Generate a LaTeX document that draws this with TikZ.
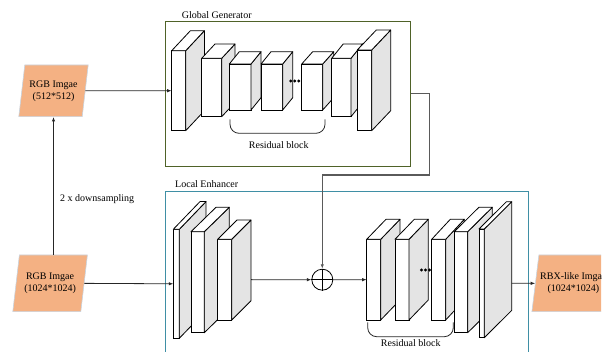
\documentclass[tikz,border=0pt]{standalone}
\usepackage{fontspec}
\setmainfont{Liberation Serif}
\usetikzlibrary{calc,arrows.meta}
\definecolor{ggcol}{HTML}{4F6228}
\definecolor{lecol}{HTML}{3F8FA5}
\definecolor{parafill}{HTML}{F4B183}
\definecolor{paraline}{HTML}{C8D4E0}
\definecolor{sidegray}{HTML}{E4E4E4}
\definecolor{linecol}{HTML}{262626}
\definecolor{fbcol}{HTML}{5A5A5A}
\tikzset{
  txt/.style={font=\fontsize{10}{12}\selectfont, inner sep=0pt, text=black},
  blockfront/.style={draw=black, line width=0.8pt, fill=white, inner sep=0pt, outer sep=0pt},
  blockside/.style={draw=black, line width=0.8pt, fill=sidegray, line join=round},
  blocktop/.style={draw=black, line width=0.8pt, fill=white, line join=round},
  conn/.style={draw=linecol, line width=0.8pt, -{Latex[length=4.5pt,width=3.4pt]}},
  feedback/.style={draw=fbcol, line width=1.1pt, -{Latex[length=4.5pt,width=3.4pt]}},
  bracket/.style={draw=linecol, line width=0.8pt, rounded corners=9pt},
  genbox/.style={draw=#1, line width=0.9pt, inner sep=0pt, outer sep=0pt},
  parashape/.style={fill=parafill, draw=paraline, line width=0.6pt}
}
% block: name, x, ytop, w, h, dx, dy
\newcommand\cnnblk[7]{%
  \node[blockfront, minimum width=#4pt, minimum height=#5pt, anchor=north west] (#1) at (#2,#3) {};
  \draw[blockside] (#1.north east) -- ++(#6,-#7) -- ++(0,#5) -- (#1.south east) -- cycle;
  \draw[blocktop] (#1.north west) -- ++(#6,-#7) -- ++(#4,0) -- (#1.north east) -- cycle;
  \coordinate (#1s) at ($(#1.east)+(#6,0)$);
}
% parallelogram: name, cx, cy, w(mid), h, halfslant, text
\newcommand\imgpara[7]{%
  \path[parashape] (#2-#4/2+#6,#3-#5/2) -- (#2+#4/2+#6,#3-#5/2) -- (#2+#4/2-#6,#3+#5/2) -- (#2-#4/2-#6,#3+#5/2) -- cycle;
  \node[txt, align=center, minimum width=#4pt, minimum height=#5pt] (#1) at (#2,#3) {#7};
}
\begin{document}
\begin{tikzpicture}[x=1pt,y=-1pt]
\useasboundingbox (0,0) rectangle (610,352);
\clip (0,0) rectangle (610,352);

% generator boxes
\node[genbox=ggcol, minimum width=245.7pt, minimum height=144.3pt, anchor=north west] (gg) at (165,21.7) {};
\node[txt, anchor=west] (gglab) at (181.7,14.8) {Global Generator};
\node[genbox=lecol, minimum width=362.6pt, minimum height=175pt, anchor=north west] (le) at (165.7,191.7) {};
\node[txt, anchor=west] (lelab) at (175,184) {Local Enhancer};

% input / output images
\imgpara{in1}{53.5}{90.85}{63.4}{51.7}{3}{RGB Imgae\\(512*512)}
\imgpara{in2}{50.1}{283.35}{68}{56.7}{3.3}{RGB Imgae\\(1024*1024)}
\begin{scope}
  \clip (0,0) rectangle (601,352);
  \imgpara{out}{573.4}{283.35}{76}{56.7}{3.5}{RBX-like Imgae\\(1024*1024)}
\end{scope}

% global generator blocks
\cnnblk{B1}{171.7}{50.7}{14}{80}{18.7}{20}
\cnnblk{B2}{201.7}{58.3}{20}{58.4}{13.3}{14.3}
\cnnblk{B3}{229.3}{64}{21.7}{46}{10}{12.3}
\cnnblk{B4}{261}{64}{21.7}{46}{10}{12.3}
\cnnblk{B5}{301.7}{64}{21}{46}{11}{12.3}
\cnnblk{B6}{331.7}{58.3}{19.3}{58.4}{11.5}{14.3}
\cnnblk{B7}{357.3}{50}{14.4}{80.7}{19}{20}
\foreach \i in {0,1,2} \fill (290.8+4*\i,81) circle (1.6);
\draw[bracket] (230,119.5) -- (230,133.3) -- (325,133.3) -- (325,119.5);
\node[txt] (rb1) at (278.8,145) {Residual block};

% local enhancer blocks
\cnnblk{L1}{173.3}{229.3}{6}{109}{26.7}{27.7}
\cnnblk{L2}{191}{231.7}{13.3}{101}{25}{24.4}
\cnnblk{L3}{217.7}{239.3}{14}{80.7}{19.3}{19.3}
\cnnblk{R1}{366.7}{239.3}{14}{80.7}{19.3}{20}
\cnnblk{R2}{395}{239.3}{14}{80.7}{19.3}{20}
\cnnblk{R3}{431.7}{239.3}{14}{80.7}{18.6}{20}
\cnnblk{R4}{454.3}{231.7}{13.4}{101}{24.6}{24.4}
\cnnblk{R5}{479}{229}{5.3}{108.7}{27.4}{27.3}
\foreach \i in {0,1,2} \fill (421.5+4*\i,270) circle (1.6);
\draw[bracket] (367.7,322.5) -- (367.7,336.7) -- (453.3,336.7) -- (453.3,322.5);
\node[txt] (rb2) at (410.8,342.8) {Residual block};

% sum node
\node[circle, draw=black, line width=0.8pt, minimum size=21pt, inner sep=0pt] (plus) at (322.3,279.7) {};
\draw[line width=0.8pt] (plus.north) -- (plus.south) (plus.west) -- (plus.east);

% connectors
\draw[conn] (in1.east) -- (B1.west);
\draw[conn] (in2.east) -- (L1.west);
\draw[conn] (in2.north -| in1.south) -- (in1.south);
\node[txt, anchor=west] (ds) at (60,199) {2 x downsampling};
\draw[conn] (L3s) -- (plus.west);
\draw[conn] (plus.east) -- (R1.west);
\draw[conn] (R5s) -- (out.west);
\coordinate (turn) at (429.3,175);
\draw[feedback] (gg.east) -| (turn) -| (plus.north);
\end{tikzpicture}
\end{document}
